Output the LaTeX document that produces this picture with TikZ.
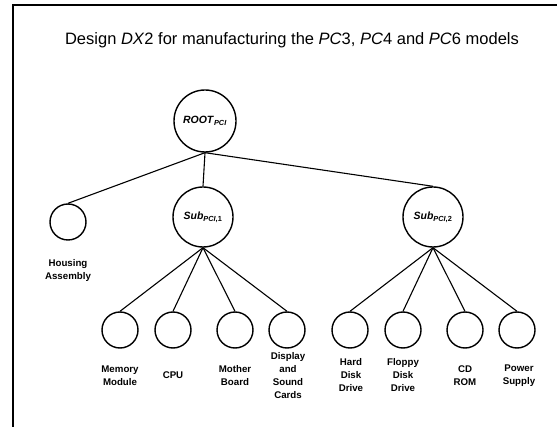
\documentclass[tikz,border=0pt]{standalone}
\usepackage{fontspec}
\setmainfont{Liberation Sans}
\usetikzlibrary{positioning}

\tikzset{
  part/.style={circle, draw, line width=1.4pt, minimum size=36pt, inner sep=0pt},
  subasm/.style={circle, draw, line width=1.4pt, minimum size=60pt, inner sep=0pt,
    font=\fontsize{10.5}{12}\selectfont\bfseries},
  partname/.style={align=center, font=\fontsize{9.7}{13}\selectfont\bfseries},
  link/.style={line width=1.1pt}
}

\begin{document}
\begin{tikzpicture}[x=1pt,y=-1pt]
	\useasboundingbox (0,0) rectangle (557,427);
	% frame, open at the right and bottom
	\draw[line width=2pt] (13,427) -- (13,5) -- (557,5);
	\node[anchor=base, font=\fontsize{16.5}{18}\selectfont] (title) at (292,45)
		{Design \textit{DX}2 for manufacturing the \textit{PC}3, \textit{PC}4 and \textit{PC}6 models};

	% tree nodes
	\node[subasm, minimum size=62pt] (root) at (205,121) {\textit{ROOT}\textsubscript{\textit{PCI}}};
	\node[part] (house) at (68,222) {};
	\node[subasm] (sub1) at (203,217) {\textit{Sub}\textsubscript{\textit{PCI},1}};
	\node[subasm] (sub2) at (433,217) {\textit{Sub}\textsubscript{\textit{PCI},2}};
	\node[part] (mem) at (120,330) {};
	\node[part] (cpu) at (173,330) {};
	\node[part] (mob) at (235,330) {};
	\node[part] (disp) at (287,330) {};
	\node[part] (hdd) at (350,330) {};
	\node[part] (fdd) at (403,330) {};
	\node[part] (cdrom) at (465,330) {};
	\node[part] (psu) at (517,330) {};

	% part names
	\node[partname] (houselbl) at (68,270) {Housing\\Assembly};
	\node[partname] (memlbl) at (120,375.5) {Memory\\Module};
	\node[partname] (cpulbl) at (173,375.5) {CPU};
	\node[partname] (moblbl) at (235,375.5) {Mother\\Board};
	\node[partname] (displbl) at (288,375.5) {Display\\and\\Sound\\Cards};
	\node[partname] (hddlbl) at (351,375.5) {Hard\\Disk\\Drive};
	\node[partname] (fddlbl) at (403,375.5) {Floppy\\Disk\\Drive};
	\node[partname] (cdromlbl) at (465,375.5) {CD\\ROM};
	\node[partname] (psulbl) at (519,375.5) {Power\\Supply};

	% links
	\foreach \c in {house,sub1,sub2}
		\draw[link] (root.south) -- (\c.north);
	\foreach \c in {mem,cpu,mob,disp}
		\draw[link] (sub1.south) -- (\c.north);
	\foreach \c in {hdd,fdd,cdrom,psu}
		\draw[link] (sub2.south) -- (\c.north);
\end{tikzpicture}
\end{document}
